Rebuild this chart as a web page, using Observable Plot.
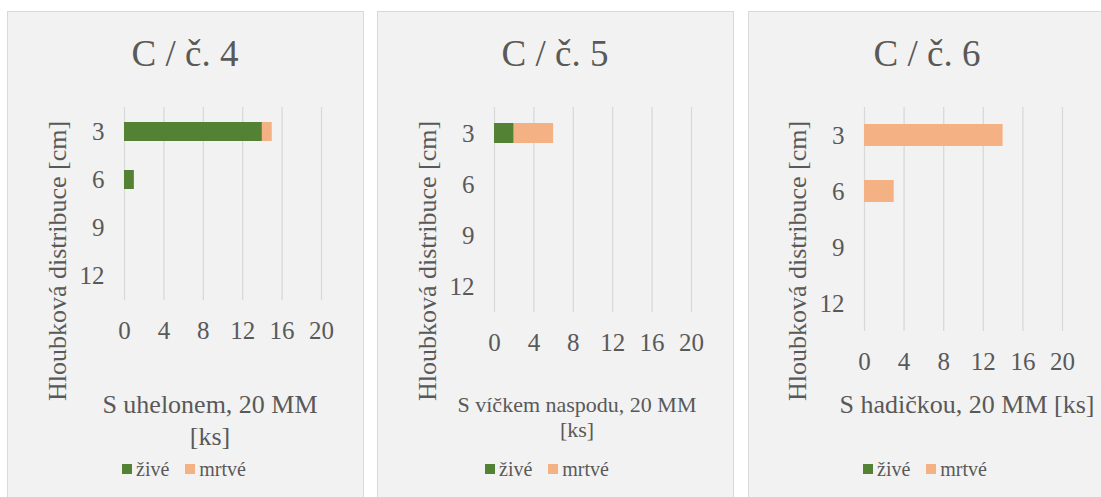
<!DOCTYPE html>
<html>
<head>
<meta charset="utf-8">
<script src="https://cdn.jsdelivr.net/npm/d3@7"></script>
<script src="https://cdn.jsdelivr.net/npm/@observablehq/plot@0.6"></script>
<style>
  html, body { margin:0; padding:0; background:#ffffff; }
  #root { position:relative; width:1101px; height:497px; overflow:hidden; font-family:"Liberation Serif", "Times New Roman", serif; color:#595959; }
  .panel { position:absolute; background:#f2f2f2; border:1px solid #d9d9d9; box-sizing:border-box; }
  .t { position:absolute; transform:translate(-50%,-50%); white-space:nowrap; line-height:1; }
  .yt { position:absolute; transform:translate(-50%,-50%) rotate(-90deg); white-space:nowrap; line-height:1; }
  .leg { position:absolute; display:flex; align-items:center; font-size:20px; line-height:1; white-space:nowrap; }
  .sw { width:10px; height:10px; display:inline-block; margin-right:4px; }
  .svgwrap { position:absolute; }
</style>
</head>
<body>
<div id="root"></div>
<script>
// ---- data ----
const depths = ["3", "6", "9", "12"];
const statuses = ["živé", "mrtvé"];
const xTicks = [0, 4, 8, 12, 16, 20];
const titles = ["C / č. 4", "C / č. 5", "C / č. 6"];
const yTitle = "Hloubková distribuce [cm]";
const xTitles = [["S uhelonem, 20 MM", "[ks]"], ["S víčkem naspodu, 20 MM", "[ks]"], ["S hadičkou, 20 MM [ks]"]];
const c4Zive = [14, 1, 0, 0];
const c4Mrtve = [1, 0, 0, 0];
const c5Zive = [2, 0, 0, 0];
const c5Mrtve = [4, 0, 0, 0];
const c6Zive = [0, 0, 0, 0];
const c6Mrtve = [14, 3, 0, 0];
const colors = ["#548235", "#f4b183"];

// ---- layout ----
const panels = [
  {left:7, width:357, x0:124, x1:321, top:107, bottom:300, titleX:185, yTitleX:58, xTitleX:210, xTitleY:[405,437], xTitleSize:26, zive:c4Zive, mrtve:c4Mrtve, legX:122},
  {left:377, width:357, x0:494, x1:691, top:107, bottom:312, titleX:555, yTitleX:428, xTitleX:577, xTitleY:[405,430], xTitleSize:22, zive:c5Zive, mrtve:c5Mrtve, legX:485},
  {left:748, width:370, x0:864, x1:1062, top:107, bottom:331, titleX:927, yTitleX:798, xTitleX:967, xTitleY:[405], xTitleSize:26, zive:c6Zive, mrtve:c6Mrtve, legX:863}
];

const root = document.getElementById("root");
function addText(cls, txt, x, y, size) {
  const d = document.createElement("div");
  d.className = cls; d.textContent = txt;
  d.style.left = x + "px"; d.style.top = y + "px"; d.style.fontSize = size + "px";
  root.appendChild(d);
  return d;
}

panels.forEach((p, i) => {
  const bg = document.createElement("div");
  bg.className = "panel";
  bg.style.left = p.left + "px"; bg.style.top = "11px";
  bg.style.width = p.width + "px"; bg.style.height = "500px";
  root.appendChild(bg);

  const data = [];
  depths.forEach((d, j) => {
    data.push({depth:d, status:statuses[0], value:p.zive[j]});
    data.push({depth:d, status:statuses[1], value:p.mrtve[j]});
  });

  const mL = 80, mR = 30, mT = 10, mB = 50;
  const w = (p.x1 - p.x0) + mL + mR;
  const h = (p.bottom - p.top) + mT + mB;
  const chart = Plot.plot({
    width: w, height: h,
    marginLeft: mL, marginRight: mR, marginTop: mT, marginBottom: mB,
    style: {background:"transparent", fontFamily:"Liberation Serif, Times New Roman, serif", fontSize:"25px", color:"#595959", overflow:"visible"},
    x: {domain:[0, 20], ticks: xTicks, tickSize:0, tickPadding:21, label:null},
    y: {domain: depths, paddingInner:0.6, paddingOuter:0.3, tickSize:0, tickPadding:20, label:null},
    color: {domain: statuses, range: colors},
    marks: [
      Plot.ruleX(xTicks, {stroke:"#d9d9d9", strokeWidth:1.3}),
      Plot.barX(data.filter(d => d.value > 0), Plot.stackX({x:"value", y:"depth", fill:"status", order: statuses}))
    ]
  });
  const wrap = document.createElement("div");
  wrap.className = "svgwrap";
  wrap.style.left = (p.x0 - mL) + "px";
  wrap.style.top = (p.top - mT) + "px";
  wrap.appendChild(chart);
  root.appendChild(wrap);

  addText("t", titles[i], p.titleX, 53, 37);
  addText("yt", yTitle, p.yTitleX, 261, 26);
  xTitles[i].forEach((line, k) => addText("t", line, p.xTitleX, p.xTitleY[k], p.xTitleSize));

  const leg = document.createElement("div");
  leg.className = "leg";
  leg.style.left = p.legX + "px"; leg.style.top = "459px";
  statuses.forEach((s, k) => {
    const sw = document.createElement("span");
    sw.className = "sw"; sw.style.background = colors[k];
    const tx = document.createElement("span");
    tx.textContent = s; tx.style.marginRight = k === 0 ? "16px" : "0";
    leg.appendChild(sw); leg.appendChild(tx);
  });
  root.appendChild(leg);
});
</script>
</body>
</html>
